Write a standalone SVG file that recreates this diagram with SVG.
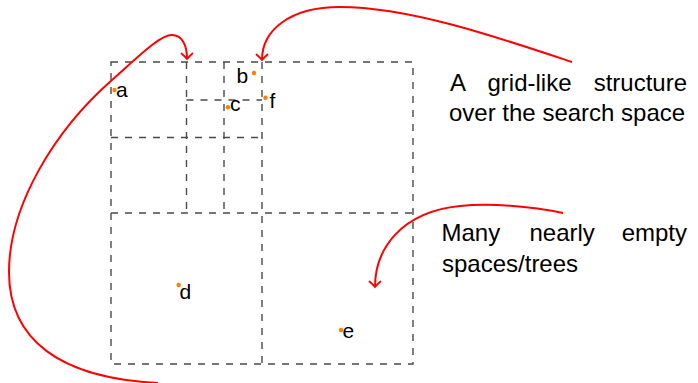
<svg xmlns="http://www.w3.org/2000/svg" width="698" height="383" viewBox="0 0 698 383">
  <style>
    .grid { fill: none; stroke: #4a4a4a; stroke-width: 1.4; stroke-dasharray: 7 7; }
    .pt { fill: #ff8000; }
    .lbl { font-family: "Liberation Sans", Arial, sans-serif; font-size: 21px; fill: #000; }
    .txt { font-family: "Liberation Sans", Arial, sans-serif; font-size: 24px; fill: #000; }
    .arr { fill: none; stroke: #ff0000; stroke-width: 2; marker-end: url(#ah); }
  </style>
  <defs>
    <marker id="ah" viewBox="-8 -8 10 16" markerWidth="10" markerHeight="16" refX="0" refY="0" orient="auto" markerUnits="userSpaceOnUse">
      <path d="M-5.5,-5.5 Q-2,-1.5 0,0 Q-2,1.5 -5.5,5.5" fill="none" stroke="#ff0000" stroke-width="1.8" stroke-linecap="round"/>
    </marker>
  </defs>
  <rect width="698" height="383" fill="#fff"/>

  <g id="grid">
    <rect class="grid" x="111" y="62" width="302" height="302"/>
    <line class="grid" x1="262" y1="62" x2="262" y2="364"/>
    <line class="grid" x1="111" y1="213" x2="413" y2="213"/>
    <line class="grid" x1="186.5" y1="62" x2="186.5" y2="213"/>
    <line class="grid" x1="111" y1="137.5" x2="262" y2="137.5"/>
    <line class="grid" x1="224" y1="62" x2="224" y2="213"/>
    <line class="grid" x1="186.5" y1="100" x2="262" y2="100"/>
  </g>

  <g id="point-a"><circle class="pt" cx="114.5" cy="90" r="2.2"/><text class="lbl" x="116" y="97">a</text></g>
  <g id="point-b"><circle class="pt" cx="254" cy="73" r="2.2"/><text class="lbl" x="236.5" y="82.5">b</text></g>
  <g id="point-c"><circle class="pt" cx="228" cy="107.3" r="2.2"/><text class="lbl" x="230" y="110.7">c</text></g>
  <g id="point-f"><circle class="pt" cx="265.5" cy="97.7" r="2.2"/><text class="lbl" x="269.5" y="108">f</text></g>
  <g id="point-d"><circle class="pt" cx="178.7" cy="285" r="2.2"/><text class="lbl" x="179.5" y="299.3">d</text></g>
  <g id="point-e"><circle class="pt" cx="341" cy="330" r="2.2"/><text class="lbl" x="342.5" y="337.7">e</text></g>

  <g id="label-grid">
    <text class="txt" x="450" y="90.7">A</text>
    <text class="txt" x="487.5" y="90.7">grid-like</text>
    <text class="txt" x="687" y="90.7" text-anchor="end">structure</text>
    <text class="txt" x="449" y="121">over the search space</text>
  </g>

  <g id="label-empty">
    <text class="txt" x="441.5" y="241">Many</text>
    <text class="txt" x="529.5" y="241">nearly</text>
    <text class="txt" x="687" y="241" text-anchor="end">empty</text>
    <text class="txt" x="442" y="272.3">spaces/trees</text>
  </g>

  <g id="connectors">
    <path class="arr" d="M572,62 C500,38 410,7 340,7 C290,7 262,30 262,60"/>
    <path class="arr" d="M158,383 C60,378 9,340 9,272 C9,205 55,130 112,80 C140,55 160,35 172,35 C182,35 187,45 187,59"/>
    <path class="arr" d="M563,213 C530,206 490,203 460,206 C400,212 375,250 375,287"/>
  </g>
</svg>
